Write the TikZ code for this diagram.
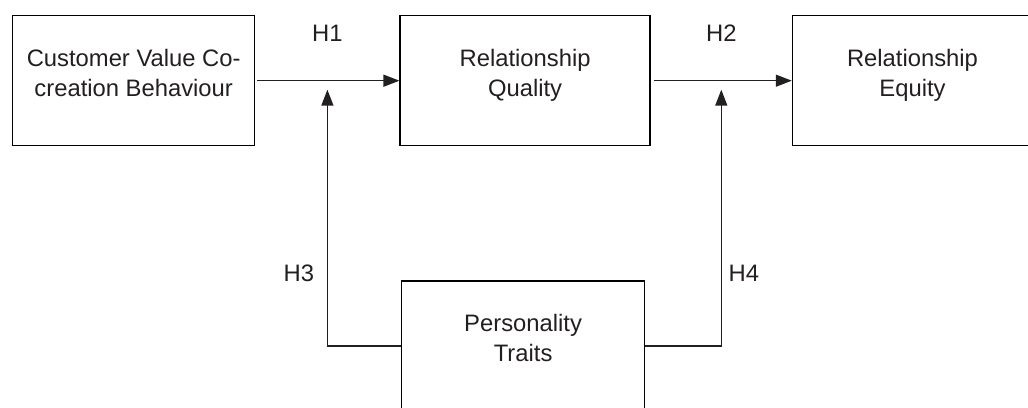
\documentclass[tikz,border=0pt]{standalone}
\usepackage{fontspec}
\setmainfont{Liberation Sans}
\usepackage{tikz}
\usetikzlibrary{matrix,arrows.meta,calc}
\definecolor{ink}{HTML}{231F20}

\begin{document}
\begin{tikzpicture}[color=ink, line width=0.7pt, font=\fontsize{11.9}{15}\selectfont,
  >={Triangle[length=8pt,width=6pt]},
  box/.style={draw, align=center, minimum height=65pt, text depth=8pt}]
  \matrix (m) [row sep=67pt, column sep=72pt]
  {
\node (cvb) [box, minimum width=121pt] {Customer Value Co-\\creation Behaviour}; &
\node (rq) [box, minimum width=125pt] {Relationship\\Quality}; &[-1.5pt]
\node (re) [box, minimum width=120pt] {Relationship\\Equity}; \\
 & \node (pt) [box, minimum width=121.5pt, xshift=-1pt] {Personality\\Traits}; & \\
};
  \pgfresetboundingbox
  \useasboundingbox ([shift={(-6pt,7.5pt)}]cvb.north west) rectangle ++(514pt,-203.5pt);
  \coordinate (t1) at ($(cvb.east)!0.5!(rq.west)+(0,-4.5pt)$);
  \coordinate (t2) at ($(rq.east)!0.5!(re.west)+(0,-4.5pt)$);
  \path[->]
  (cvb) edge [shorten <=1pt] node [above=16pt] {H1} (rq)
  (rq) edge [shorten <=1.5pt] node [above=16pt] {H2} (re)
  ;
  \draw[->] (pt.west) -| node [pos=0.642, left=3pt] {H3} (t1);
  \draw[->] (pt.east) -| node [pos=0.642, right=0pt] {H4} (t2);
\end{tikzpicture}
\end{document}
